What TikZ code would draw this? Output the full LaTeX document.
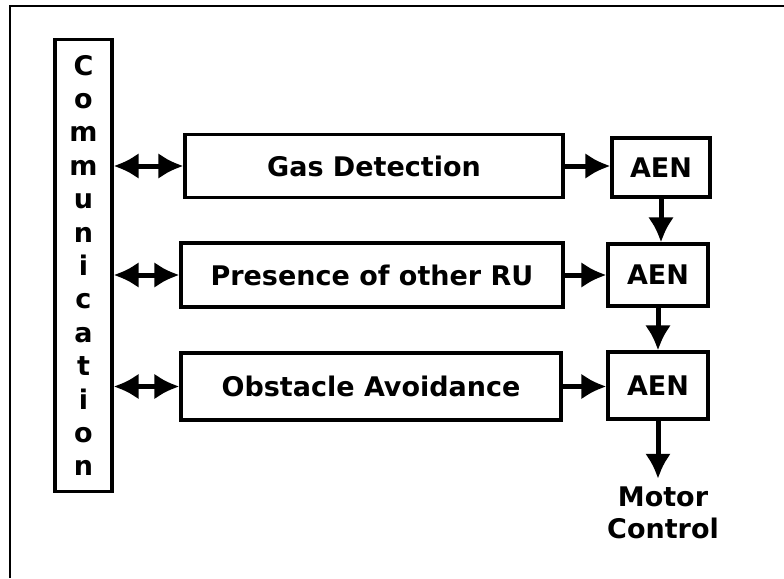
\documentclass[tikz,border=0pt]{standalone}
\usepackage{fontspec}
\setmainfont{DejaVu Sans}
\usetikzlibrary{arrows.meta}

\tikzset{
  blk/.style={draw,line width=3.2pt,inner sep=0pt,font=\fontsize{27}{32}\selectfont\bfseries},
  lbl/.style={inner sep=0pt,align=center,font=\fontsize{27}{32}\selectfont\bfseries},
  link/.style={line width=5pt,-{Latex[length=25pt,width=26pt]}},
  dlink/.style={line width=5pt,{Latex[length=25pt,width=26pt]}-{Latex[length=25pt,width=26pt]}},
}

\begin{document}
\begin{tikzpicture}[x=1pt,y=-1pt]
        \useasboundingbox (0,0) rectangle (784,578);

        % 边框
        \draw[line width=2pt] (10,578) -- (10,6) -- (784,6);

        % 通信模块
        \node[blk,minimum width=57pt,minimum height=452pt,align=center,
              font=\fontsize{27}{33.4}\selectfont\bfseries] (comm) at (83.5,265.5)
              {C\\o\\m\\m\\u\\n\\i\\c\\a\\t\\i\\o\\n};

        % 行为模块
        \node[blk,minimum width=378pt,minimum height=63pt] (gas) at (374,166) {Gas Detection};
        \node[blk,minimum width=382pt,minimum height=64pt] (pres) at (372,275) {Presence of other RU};
        \node[blk,minimum width=380pt,minimum height=67pt] (obst) at (371,386.5) {Obstacle Avoidance};

        % AEN
        \node[blk,minimum width=98pt,minimum height=59pt] (aen1) at (661,167.5) {AEN};
        \node[blk,minimum width=100pt,minimum height=62pt] (aen2) at (658,275) {AEN};
        \node[blk,minimum width=100pt,minimum height=67pt] (aen3) at (658,385.5) {AEN};

        % 输出
        \node[lbl,inner sep=8pt] (motor) at (663,513) {Motor\\Control};

        % 连线
        \draw[dlink] (comm.east |- gas.west) -- (gas.west);
        \draw[dlink] (comm.east |- pres.west) -- (pres.west);
        \draw[dlink] (comm.east |- obst.west) -- (obst.west);
        \draw[link] (gas.east) -- (gas.east -| aen1.west);
        \draw[link] (pres.east) -- (pres.east -| aen2.west);
        \draw[link] (obst.east) -- (obst.east -| aen3.west);
        \draw[link] (aen1.south) -- (aen1.south |- aen2.north);
        \draw[link] (aen2.south) -- (aen2.south |- aen3.north);
        \draw[link] (aen3.south) -- (aen3.south |- motor.north);
    \end{tikzpicture}
\end{document}
